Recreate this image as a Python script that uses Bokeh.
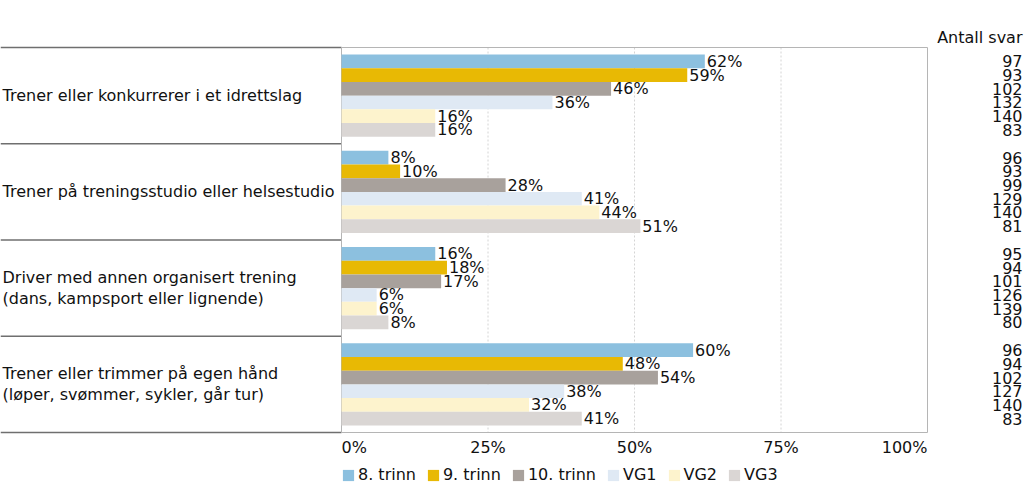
from bokeh.plotting import figure
from bokeh.models import Range1d, ColumnDataSource, Legend, LegendItem
from bokeh.core.properties import value
from bokeh.embed import file_html
from bokeh.resources import INLINE

# ---------------- data ----------------
categories = [
    "Trener eller konkurrerer i et idrettslag",
    "Trener på treningsstudio eller helsestudio",
    "Driver med annen organisert trening\n(dans, kampsport eller lignende)",
    "Trener eller trimmer på egen hånd\n(løper, svømmer, sykler, går tur)",
]
series = ["8. trinn", "9. trinn", "10. trinn", "VG1", "VG2", "VG3"]
trinn8 = [62, 8, 16, 60]
trinn9 = [59, 10, 18, 48]
trinn10 = [46, 28, 17, 54]
vg1 = [36, 41, 6, 38]
vg2 = [16, 44, 6, 32]
vg3 = [16, 51, 8, 41]
counts8 = [97, 96, 95, 96]
counts9 = [93, 93, 94, 94]
counts10 = [102, 99, 101, 102]
countsVG1 = [132, 129, 126, 127]
countsVG2 = [140, 140, 139, 140]
countsVG3 = [83, 81, 80, 83]
tick_values = [0, 25, 50, 75, 100]
tick_labels = ["0%", "25%", "50%", "75%", "100%"]
counts_title = "Antall svar"

values = [trinn8, trinn9, trinn10, vg1, vg2, vg3]
counts = [counts8, counts9, counts10, countsVG1, countsVG2, countsVG3]
colors = ["#8cc0df", "#e8b904", "#a8a19c", "#dfe9f4", "#fdf3cd", "#dad6d4"]

# ---------------- layout (pixels of the canvas) ----------------
W, H = 1024, 487
PLOT_L, PLOT_R = 341, 927      # x pixel of 0% and 100%
PLOT_T, PLOT_B = 47, 432       # y pixel of top / bottom of plot area
px_x = (PLOT_R - PLOT_L) / 100.0
n = len(categories)
px_y = (PLOT_B - PLOT_T) / n

x0 = -PLOT_L / px_x
x1 = 100 + (W - PLOT_R) / px_x
y_top = -PLOT_T / px_y
y_bot = n + (H - PLOT_B) / px_y

FONT = "DejaVu Sans"
FS = "16px"
TXT = "#111111"

p = figure(width=W, height=H, x_range=Range1d(x0, x1), y_range=Range1d(y_bot, y_top),
           output_backend="svg", toolbar_location=None,
           min_border=0, min_border_left=0, min_border_right=0, min_border_top=0, min_border_bottom=0)
p.axis.visible = False
p.grid.visible = False
p.outline_line_color = None
p.background_fill_color = "white"

# gridlines
for t in tick_values[1:-1]:
    p.segment(x0=[t], y0=[0], x1=[t], y1=[n], line_color="#d4d4d4", line_width=1, line_dash="2 2")

# left panel lines
p.segment(x0=[x0] * (n + 1), y0=list(range(n + 1)), x1=[0] * (n + 1), y1=list(range(n + 1)),
          line_color="#6f6f6f", line_width=1.3)
# plot area outline
p.quad(left=[0], right=[100], top=[0], bottom=[n], fill_color=None, line_color="#b5b5b5", line_width=1)

# bars
pad = 0.073
bh = (1 - 2 * pad) / len(series)
items = []
for j, (name, vals, cnts, col) in enumerate(zip(series, values, counts, colors)):
    ys = [i + pad + (j + 0.5) * bh for i in range(n)]
    src = ColumnDataSource(dict(y=ys, v=vals, lab=[f"{v}%" for v in vals],
                                cnt=[str(c) for c in cnts],
                                lx=[v + 2 / px_x for v in vals]))
    r = p.hbar(y="y", right="v", left=0, height=bh, fill_color=col, line_color=None, source=src)
    items.append(LegendItem(label=name, renderers=[r]))
    p.text(x="lx", y="y", text="lab", source=src, text_font=value(FONT), text_font_size=FS,
           text_color=TXT, text_align="left", text_baseline="middle")
    p.text(x=x1 - 2 / px_x, y="y", text="cnt", source=src, text_font=value(FONT), text_font_size=FS,
           text_color=TXT, text_align="right", text_baseline="middle")

# category labels
p.text(x=[x0 + 2 / px_x] * n, y=[i + 0.5 for i in range(n)], text=categories,
       text_font=value(FONT), text_font_size=FS, text_color=TXT,
       text_align="left", text_baseline="middle", text_line_height=1.1)

# counts header
p.text(x=[x1 - 2 / px_x], y=[-10 / px_y], text=[counts_title], text_font=value(FONT),
       text_font_size=FS, text_color=TXT, text_align="right", text_baseline="middle")

# x tick labels
aligns = ["left"] + ["center"] * (len(tick_values) - 2) + ["right"]
p.text(x=tick_values, y=[n + 15 / px_y] * len(tick_values), text=tick_labels,
       text_align=aligns, text_baseline="middle", text_font=value(FONT),
       text_font_size=FS, text_color=TXT)

legend = Legend(items=items, orientation="horizontal", location=(PLOT_L, 3),
                glyph_width=14, glyph_height=14, label_standoff=3, spacing=10,
                padding=0, margin=0, border_line_color=None, background_fill_alpha=0,
                label_text_font=FONT, label_text_font_size=FS, label_text_color=TXT)
p.add_layout(legend)

open("out.html", "w").write(file_html(p, INLINE))
